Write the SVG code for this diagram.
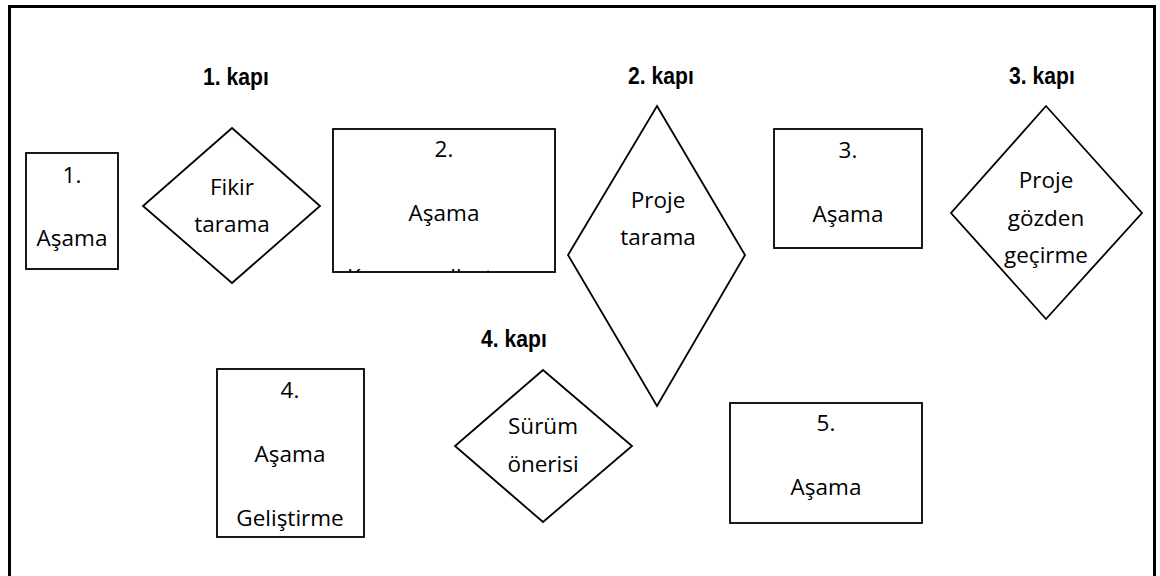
<svg xmlns="http://www.w3.org/2000/svg" width="1160" height="576" viewBox="0 0 1160 576">
<style>
.shape{fill:#fff;stroke:#000;stroke-width:1.8}
.t{font-family:"Open Sans","Noto Sans","DejaVu Sans",sans-serif;font-size:22.5px;fill:#000;text-anchor:middle}
.k{font-family:"Liberation Sans",Arial,sans-serif;font-weight:bold;font-size:23.5px;fill:#000;text-anchor:middle}
</style>
<defs>
<clipPath id="clip2"><rect x="333" y="129" width="222" height="143"/></clipPath>
</defs>
<rect x="0" y="0" width="1160" height="576" fill="#fff"/>
<rect x="9.5" y="6.5" width="1145" height="620" fill="none" stroke="#000" stroke-width="3"/>
<g id="connectors"></g>
<g id="label-kapi1"><text class="k" transform="translate(236,85) scale(0.9,1)">1. kapı</text></g>
<g id="label-kapi2"><text class="k" transform="translate(661,84) scale(0.9,1)">2. kapı</text></g>
<g id="label-kapi3"><text class="k" transform="translate(1042,84) scale(0.9,1)">3. kapı</text></g>
<g id="label-kapi4"><text class="k" transform="translate(514,347) scale(0.9,1)">4. kapı</text></g>
<g id="asama1">
<rect class="shape" x="26" y="153" width="92" height="116"/>
<text class="t" x="72" y="183">1.</text>
<text class="t" x="72" y="246">Aşama</text>
</g>
<g id="fikir-tarama">
<polygon class="shape" points="232,128 320,206 232,283 143,206"/>
<text class="t" x="232" y="195">Fikir</text>
<text class="t" x="232" y="232">tarama</text>
</g>
<g id="asama2">
<rect class="shape" x="333" y="129" width="222" height="143"/>
<text class="t" x="444" y="157">2.</text>
<text class="t" x="444" y="221">Aşama</text>
<text class="t" x="444" y="285" clip-path="url(#clip2)">Kavramsallaştırma</text>
</g>
<g id="proje-tarama">
<polygon class="shape" points="657,106 745,255 657,406 568,255"/>
<text class="t" x="658" y="208">Proje</text>
<text class="t" x="658" y="245">tarama</text>
</g>
<g id="asama3">
<rect class="shape" x="774" y="129" width="148" height="119"/>
<text class="t" x="848" y="158">3.</text>
<text class="t" x="848" y="222">Aşama</text>
</g>
<g id="proje-gozden-gecirme">
<polygon class="shape" points="1046,106 1142,213 1046,319 951,213"/>
<text class="t" x="1046" y="188">Proje</text>
<text class="t" x="1046" y="226">gözden</text>
<text class="t" x="1046" y="263">geçirme</text>
</g>
<g id="asama4">
<rect class="shape" x="217" y="369" width="147" height="168"/>
<text class="t" x="290" y="398">4.</text>
<text class="t" x="290" y="462">Aşama</text>
<text class="t" x="290" y="526">Geliştirme</text>
</g>
<g id="surum-onerisi">
<polygon class="shape" points="543,370 632,446 543,522 455,446"/>
<text class="t" x="543" y="434">Sürüm</text>
<text class="t" x="543" y="472">önerisi</text>
</g>
<g id="asama5">
<rect class="shape" x="730" y="403" width="192" height="120"/>
<text class="t" x="826" y="431">5.</text>
<text class="t" x="826" y="495">Aşama</text>
</g>
</svg>
